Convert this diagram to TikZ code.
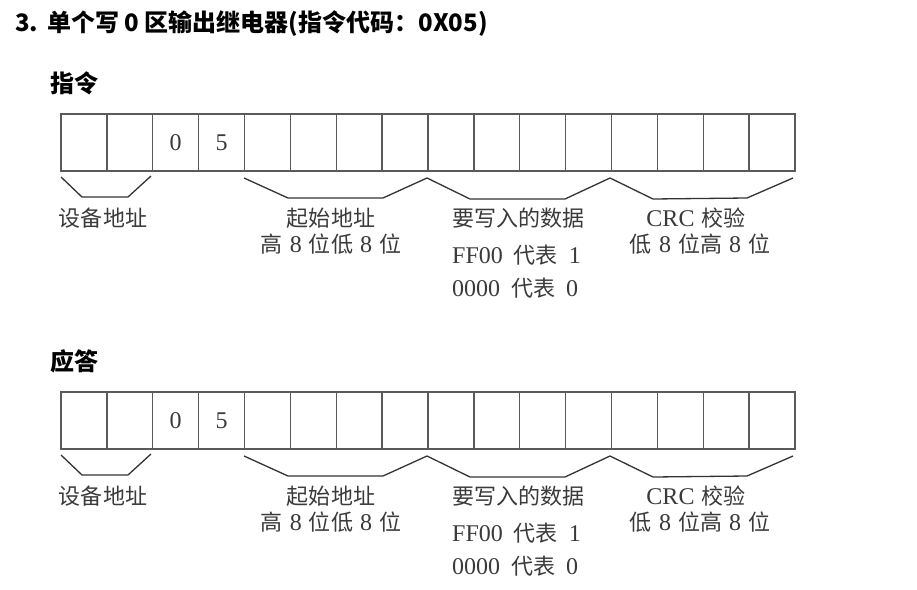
\documentclass[tikz,border=0pt]{standalone}
\usepackage{fontspec}
\setmainfont{Liberation Serif}
\newfontfamily\cjk{Noto Sans CJK SC}
\newfontfamily\cjkl[Scale=0.917]{Noto Sans CJK SC}
\newcommand\zh[1]{{\cjkl #1}}
\newcommand\gp{\hskip 7pt\relax}
\newcommand\wgp{\hskip 11pt\relax}
\definecolor{linegray}{HTML}{5A5A5A}
\definecolor{txtgray}{HTML}{3A3A3A}
\tikzset{
  cell/.style={draw=linegray, line width=1.3pt, minimum width=45.875pt, minimum height=57pt, inner sep=0pt, outer sep=0pt, anchor=north west, font=\fontsize{24}{26}\selectfont, text=txtgray},
  bracepath/.style={draw=black!80, line width=1.3pt, line join=round},
  lbl/.style={font=\fontsize{24}{26}\selectfont, text=txtgray, inner sep=0pt},
  head/.style={font=\cjk\bfseries\fontsize{24}{26}\selectfont, text=black, inner sep=0pt},
}
\newcommand\frameblock[2]{%
  \begin{scope}[yshift=-#1pt]
    \foreach \i in {1,...,16} {
      \node[cell] (#2c\i) at ({61+(\i-1)*45.875},114) {};
    }
    \node[cell, anchor=center] (#2v0) at (#2c3.center) {0};
    \node[cell, anchor=center] (#2v5) at (#2c4.center) {5};
    \draw[bracepath] (61,177) -- (82,197) -- (128,197) -- (151,176);
    \draw[bracepath] (244,178) -- (288,198) -- (383,198) -- (427,178)
                     -- (470,199) -- (565,199) -- (610,178)
                     -- (653,199) -- (747,198) -- (793,178);
    \node[lbl] (#2dev) at (103,218) {\zh{设备地址}};
    \node[lbl] (#2st1) at (331,218) {\zh{起始地址}};
    \node[lbl] (#2st2) at (331,244) {\zh{高}\gp 8\gp\zh{位低}\gp 8\gp\zh{位}};
    \node[lbl, anchor=west] (#2d1) at (452,218) {\zh{要写入的数据}};
    \node[lbl, anchor=west] (#2d2) at (452,255) {FF00\wgp\zh{代表}\wgp 1};
    \node[lbl, anchor=west] (#2d3) at (452,288) {0000\wgp\zh{代表}\wgp 0};
    \node[lbl] (#2crc1) at (696,218) {CRC\gp\zh{校验}};
    \node[lbl] (#2crc2) at (700,244) {\zh{低}\gp 8\gp\zh{位高}\gp 8\gp\zh{位}};
  \end{scope}%
}
\begin{document}
\begin{tikzpicture}[x=1pt, y=-1pt]
  \useasboundingbox[fill=white] (0,0) rectangle (917,589);
  \node[head, anchor=west] (title) at (15,24) {3.\hskip 9pt 单个写 0 区输出继电器(指令代码：0X05)};
  \node[head, anchor=west] (cmd) at (50,83) {指令};
  \node[head, anchor=west] (resp) at (50,361) {应答};
  \frameblock{0}{a}
  \frameblock{278}{b}
\end{tikzpicture}
\end{document}
